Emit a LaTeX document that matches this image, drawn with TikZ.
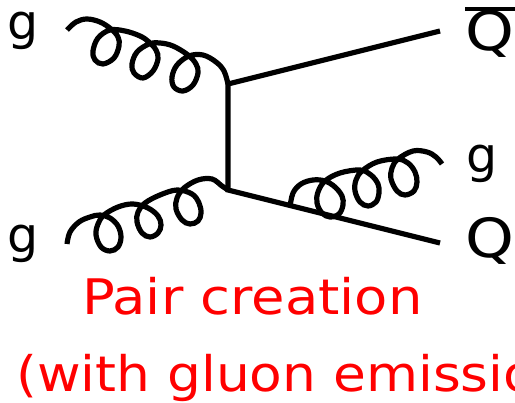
\documentclass[tikz,border=0pt]{standalone}
\usepackage{fontspec}
\newfontfamily\labelfont{DejaVu Sans}
\newfontfamily\quarkfont{DejaVu Sans}[FakeStretch=1.15]
\newfontfamily\captionfont{DejaVu Sans}[FakeStretch=1.11]
\newfontfamily\emitfont{DejaVu Sans}[FakeStretch=1.09]
\tikzset{
  parton/.style={line width=5.2pt},
  gluon/.style={line width=5.2pt,smooth,tension=0.6},
  partlabel/.style={anchor=base,inner sep=0pt,font=\labelfont\fontsize{49}{60}\selectfont},
  quarklabel/.style={anchor=base,inner sep=0pt,font=\quarkfont\fontsize{54}{60}\selectfont},
  caption/.style={anchor=base west,inner sep=0pt,text=red,font=\captionfont\fontsize{49}{60}\selectfont},
  emitcaption/.style={caption,font=\emitfont\fontsize{49}{60}\selectfont}
}
\begin{document}
\begin{tikzpicture}[x=1pt,y=-1pt]
    \useasboundingbox (0,0) rectangle (515,403);
    % Vertices and free ends of the quark lines.
    \coordinate (vertA) at (228,84);
    \coordinate (vertB) at (228,190);
    \coordinate (endQbar) at (440,31);
    \coordinate (endQ) at (440,243);
    \coordinate (emit) at (290,207);
    \coordinate (barLeft) at (465,9);
    \coordinate (barRight) at (515,9);
    \draw[parton] (endQbar) -- (vertA) -- (vertB) -- (endQ);
    % Gluons are traced by hand, loop by loop.
    \draw[gluon] plot coordinates
      {(67,30) (76,22) (87,19) (100,22)
       (111,29) (118,37) (119,46) (114,58) (103,64) (95,60) (93,51) (98,38) (110,30) (125,31) (140,36)
       (149,42) (156,50) (158,59) (153,71) (143,78) (134,73) (132,64) (137,52) (149,44) (160,43) (173,46)
       (188,55) (196,64) (198,73) (193,85) (183,91) (174,87) (172,77) (177,65) (189,56) (203,55)
       (216,62) (224,71) (vertA)};
    \draw[gluon] plot coordinates
      {(67,244) (70,232) (79,222) (90,217) (100,215)
       (110,218) (118,226) (121,237) (118,247) (110,251) (101,247) (96,235) (98,224) (104,215) (118,207) (133,204)
       (148,208) (158,216) (161,225) (158,233) (150,237) (142,233) (137,222) (138,212) (145,203) (160,195) (177,190)
       (192,194) (199,203) (201,213) (198,221) (190,224) (182,220) (176,209) (177,198) (184,188) (198,180)
       (212,179) (222,186) (vertB)};
    \draw[gluon] plot coordinates
      {(emit) (293,193) (301,184) (313,180) (325,181)
       (335,187) (342,196) (343,205) (339,214) (330,217) (322,213) (317,203) (318,192) (325,181) (340,173) (360,170)
       (371,175) (378,184) (379,193) (376,202) (368,206) (360,202) (355,191) (356,180) (362,171) (377,162) (397,159)
       (408,163) (415,172) (417,182) (414,191) (405,195) (397,191) (391,179) (392,168) (398,159) (413,151)
       (427,152) (436,157) (442,164)};
    \node[partlabel] (gTop) at (23,40) {g};
    \node[partlabel] (gBottom) at (23,253) {g};
    \node[partlabel] (gOut) at (482,173) {g};
    \node[quarklabel] (qOut) at (490,258) {Q};
    \node[quarklabel] (qbarOut) at (490,51) {Q};
    \draw[line width=4pt] (barLeft) -- (barRight);
    \node[caption] (pairText) at (82,315) {Pair creation};
    \node[emitcaption] (emitText) at (16,392) {(with gluon emission)};
  \end{tikzpicture}
\end{document}
